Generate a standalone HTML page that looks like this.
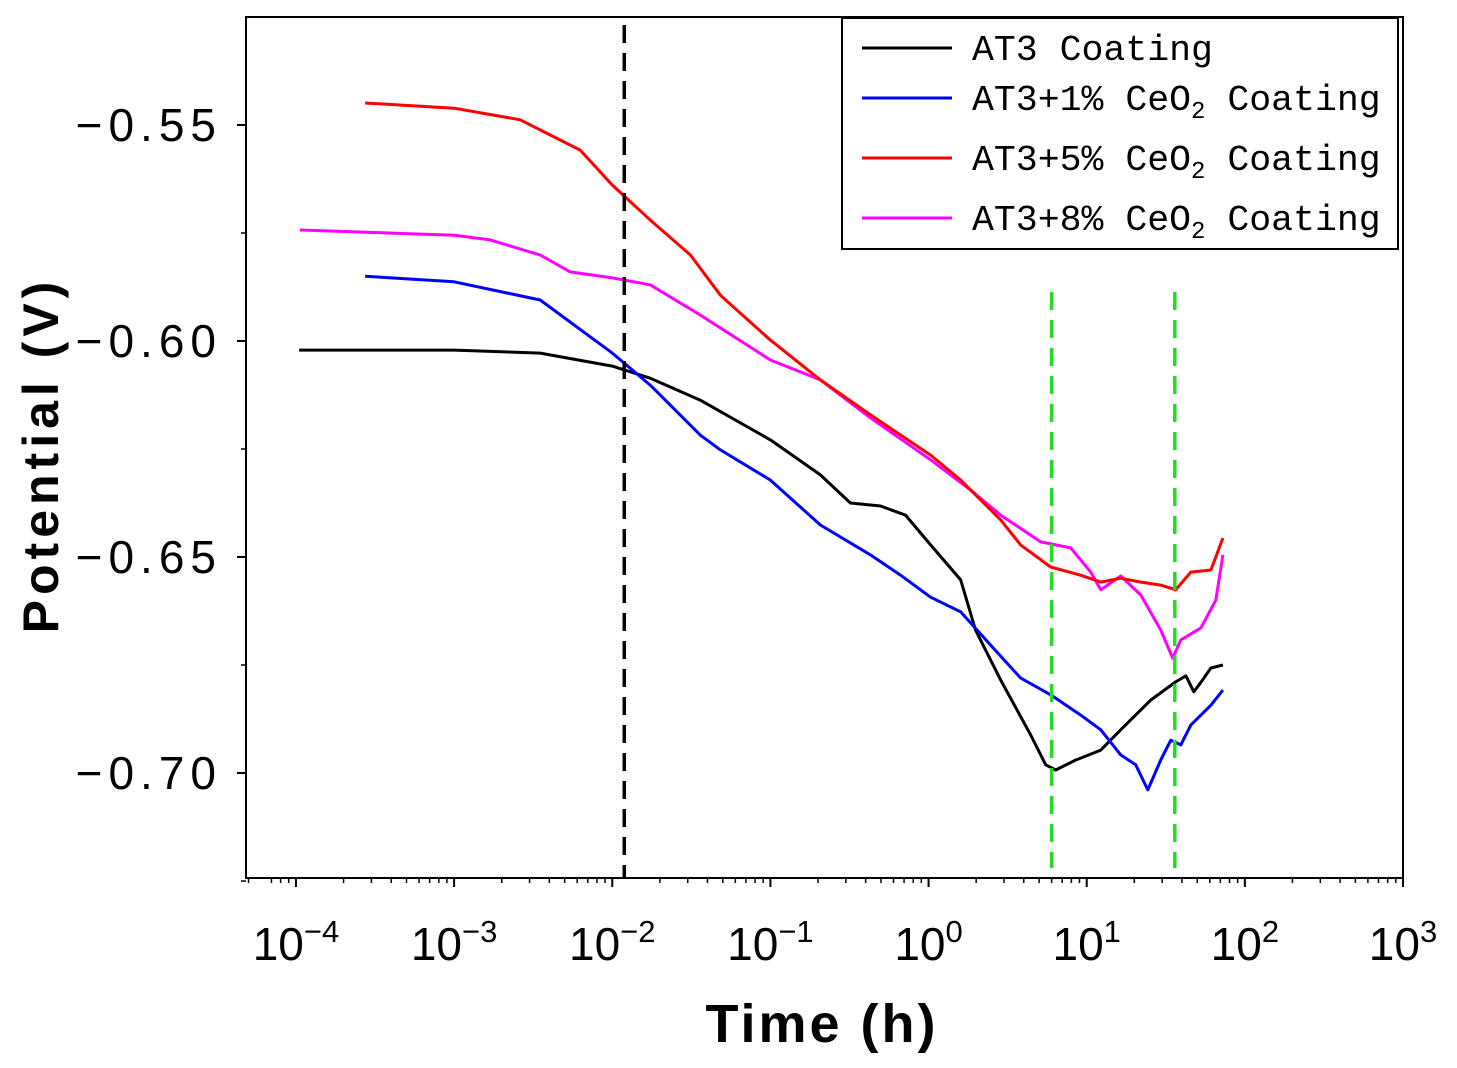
<!DOCTYPE html>
<html><head><meta charset="utf-8"><style>
html,body{margin:0;padding:0;background:#fff}
svg{display:block}
</style></head><body>
<svg id="chart" width="1457" height="1068" xmlns="http://www.w3.org/2000/svg"></svg>
<script>
const xTickExps=[-4,-3,-2,-1,0,1,2,3];
const yTickVals=[-0.55,-0.60,-0.65,-0.70];
const yTickLabels=["\u22120.55","\u22120.60","\u22120.65","\u22120.70"];
const seriesNames=["AT3 Coating","AT3+1% CeO2 Coating","AT3+5% CeO2 Coating","AT3+8% CeO2 Coating"];
const seriesColors=["#000000","#0000ff","#ff0000","#ff00ff"];
const blackLogT=[-3.98,-3,-2.456,-2,-1.76,-1.443,-1,-0.684,-0.494,-0.304,-0.146,0.013,0.203,0.297,0.456,0.646,0.741,0.804,0.930,1.089,1.215,1.405,1.563,1.627,1.677,1.722,1.785,1.861];
const blackV=[-0.6021,-0.6021,-0.6028,-0.6058,-0.6086,-0.6137,-0.6229,-0.6310,-0.6375,-0.6382,-0.6403,-0.6472,-0.6553,-0.6669,-0.6785,-0.6912,-0.6981,-0.6993,-0.6970,-0.6947,-0.6900,-0.6831,-0.6789,-0.6775,-0.6812,-0.6790,-0.6757,-0.6750];
const blueLogT=[-3.563,-3,-2.456,-2,-1.76,-1.443,-1.316,-1,-0.684,-0.367,-0.177,0.013,0.203,0.392,0.582,0.772,0.962,1.089,1.215,1.310,1.386,1.468,1.532,1.595,1.658,1.785,1.861];
const blueV=[-0.5850,-0.5863,-0.5905,-0.6028,-0.6102,-0.6218,-0.6252,-0.6322,-0.6426,-0.6495,-0.6542,-0.6593,-0.6627,-0.6704,-0.6780,-0.6819,-0.6866,-0.6900,-0.6958,-0.6981,-0.7039,-0.6970,-0.6924,-0.6935,-0.6889,-0.6843,-0.6808];
const redLogT=[-3.563,-3,-2.582,-2.203,-2,-1.76,-1.506,-1.316,-1,-0.684,-0.367,0.013,0.203,0.456,0.582,0.772,0.962,1.089,1.215,1.342,1.468,1.563,1.658,1.785,1.861];
const redV=[-0.5449,-0.5461,-0.5488,-0.5558,-0.5639,-0.5720,-0.5801,-0.5894,-0.5998,-0.6090,-0.6171,-0.6264,-0.6322,-0.6414,-0.6472,-0.6523,-0.6542,-0.6558,-0.6549,-0.6558,-0.6565,-0.6576,-0.6535,-0.6530,-0.6456];
const magLogT=[-3.975,-3,-2.772,-2.456,-2.266,-2,-1.76,-1.443,-1,-0.684,-0.367,0.013,0.266,0.456,0.709,0.899,1.025,1.089,1.215,1.342,1.468,1.544,1.595,1.722,1.816,1.861];
const magV=[-0.5743,-0.5755,-0.5766,-0.5801,-0.5840,-0.5854,-0.5870,-0.5940,-0.6044,-0.6090,-0.6178,-0.6275,-0.6345,-0.6403,-0.6465,-0.6479,-0.6535,-0.6576,-0.6544,-0.6588,-0.6669,-0.6734,-0.6692,-0.6664,-0.6600,-0.6495];
const markerLogT=[-1.924,0.778,1.557];
const markerColors=["#000000","#22dd22","#22dd22"];

const NS="http://www.w3.org/2000/svg";
const svg=document.getElementById('chart');
const L=246,R=1403,T=17,B=878;
const xMin=-4.316,xMax=3,yMin=-0.7243,yMax=-0.525;
const sx=v=>L+(v-xMin)/(xMax-xMin)*(R-L);
const sy=v=>B-(v-yMin)/(yMax-yMin)*(B-T);
function mk(tag,attrs,parent){const e=document.createElementNS(NS,tag);for(const k in attrs)e.setAttribute(k,attrs[k]);(parent||svg).appendChild(e);return e;}

const allT=[blackLogT,blueLogT,redLogT,magLogT];
const allV=[blackV,blueV,redV,magV];
const order=[0,1,3,2];
const sNames=["series-at3","series-at3-1pct-ceo2","series-at3-5pct-ceo2","series-at3-8pct-ceo2"];
order.forEach(i=>{
  const d=allT[i].map((t,j)=>(j?'L':'M')+sx(t).toFixed(1)+' '+sy(allV[i][j]).toFixed(1)).join(' ');
  const p=mk('path',{d:d,fill:'none',stroke:seriesColors[i],'stroke-width':3,'stroke-linejoin':'round'});
  
  
});
markerLogT.forEach((t,i)=>{
  const ln=mk('line',{x1:sx(t),x2:sx(t),y1:i?292:25,y2:i?868:878,stroke:markerColors[i],'stroke-width':3.5,'stroke-dasharray':'18 10'});
  
  
});
const fr=mk('rect',{x:L,y:T,width:R-L,height:B-T,fill:'none',stroke:'#000','stroke-width':2});


xTickExps.forEach(e=>{
  const x=sx(e);
  mk('line',{x1:x,x2:x,y1:B,y2:B+9,stroke:'#000','stroke-width':2});
  const g=mk('text',{x:x,y:960,'text-anchor':'middle','font-family':'Liberation Sans, sans-serif','font-size':46,fill:'#000'});
  
  
  g.textContent='10';
  const sup=mk('tspan',{dy:-18,'font-size':31},g);sup.textContent=e<0?'\u2212'+(-e):String(e);
  for(let k=2;k<10;k++){const m=e+Math.log10(k);if(m<xMin)continue;if(e===3)continue;
    const xm=sx(m);mk('line',{x1:xm,x2:xm,y1:B,y2:B+5,stroke:'#000','stroke-width':1.5});}
});
[-4.3,-4.155,-4.097,-4.046].forEach(m=>{if(m>xMin)mk('line',{x1:sx(m),x2:sx(m),y1:B,y2:B+5,stroke:'#000','stroke-width':1.5});});
yTickVals.forEach((v,i)=>{
  const y=sy(v);
  mk('line',{x1:L-9,x2:L,y1:y,y2:y,stroke:'#000','stroke-width':2});
  const t=mk('text',{x:222,y:y+16,'text-anchor':'end','font-family':'Liberation Sans, sans-serif','font-size':46,fill:'#000','letter-spacing':6});
  
  
  t.textContent=yTickLabels[i];
});
for(let v=-0.725;v<=-0.525;v+=0.025){mk('line',{x1:L-5,x2:L,y1:sy(v),y2:sy(v),stroke:'#000','stroke-width':1.5});}
const xt=mk('text',{x:822,y:1042,'text-anchor':'middle','font-family':'Liberation Sans, sans-serif','font-size':54,'font-weight':'bold',fill:'#000','letter-spacing':3});


xt.textContent='Time (h)';
const yt=mk('text',{x:0,y:0,transform:'translate(58,455) rotate(-90)','text-anchor':'middle','font-family':'Liberation Sans, sans-serif','font-size':50,'font-weight':'bold',fill:'#000','letter-spacing':5});


yt.textContent='Potential (V)';
const lg=mk('g',{});


mk('rect',{x:842,y:18,width:556,height:231,fill:'#fff',stroke:'#000','stroke-width':2},lg);
const lgY=[48,98,158,218];
seriesNames.forEach((n,i)=>{
  const ent=mk('g',{},lg);
  
  
  mk('line',{x1:862,x2:952,y1:lgY[i],y2:lgY[i],stroke:seriesColors[i],'stroke-width':3},ent);
  const t=mk('text',{x:972,y:lgY[i]+12,'font-family':'Liberation Mono, monospace','font-size':36.5,fill:'#000'},ent);
  if(i===0){t.textContent=n;}
  else{const pct=n.split(' ')[0];t.textContent=pct+' CeO';const s=mk('tspan',{dy:8,'font-size':24},t);s.textContent='2';const r=mk('tspan',{dy:-8},t);r.textContent=' Coating';}
});
</script>
</body></html>
